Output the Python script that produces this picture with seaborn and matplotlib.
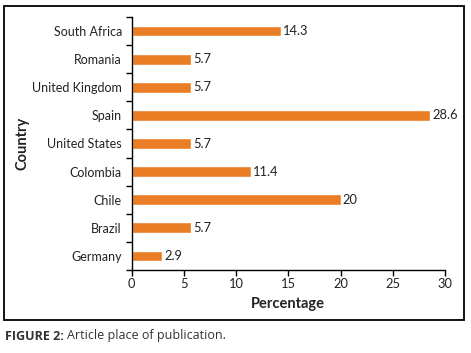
import matplotlib
matplotlib.use("Agg")
import matplotlib.pyplot as plt
import seaborn as sns
import pandas as pd
from matplotlib.patches import Rectangle

countries = ["South Africa", "Romania", "United Kingdom", "Spain", "United States",
             "Colombia", "Chile", "Brazil", "Germany"]
percentages = [14.3, 5.7, 5.7, 28.6, 5.7, 11.4, 20, 5.7, 2.9]
value_labels = ["14.3", "5.7", "5.7", "28.6", "5.7", "11.4", "20", "5.7", "2.9"]
x_ticks = [0, 5, 10, 15, 20, 25, 30]

df = pd.DataFrame({"Country": countries, "Percentage": percentages})

sns.set_style("white")
plt.rcParams["font.family"] = ["Lato", "DejaVu Sans"]

W, H = 471, 353
fig = plt.figure(figsize=(W / 100, H / 100), dpi=100)
ax = fig.add_axes([131.7 / W, 1 - 270 / H, (445 - 131.7) / W, (270 - 17) / H])

sns.barplot(data=df, x="Percentage", y="Country", order=countries,
            color="#E87D23", saturation=1, width=0.38, ax=ax)

ax.bar_label(ax.containers[0], labels=value_labels, padding=1.5,
             fontsize=9.3, color="#222222")

ax.set_xlim(0, 30)
ax.set_ylim(len(countries) - 0.5, -0.5)
ax.set_xticks(x_ticks)
ax.set_xticklabels([str(t) for t in x_ticks], fontsize=9.3, color="#222222")

# y ticks: marks at category boundaries, labels at centers
ax.set_yticks([i - 0.5 for i in range(len(countries) + 1)])
ax.set_yticklabels([])
ax.set_yticks(list(range(len(countries))), minor=True)
ax.set_yticklabels(countries, minor=True, fontsize=9, color="#222222")
ax.tick_params(axis="y", which="major", direction="out", length=4, width=1, color="black", left=True)
ax.tick_params(axis="y", which="minor", length=0, pad=7)
ax.tick_params(axis="x", direction="out", length=4, width=1, color="black", bottom=True, pad=2)

for s in ["top", "right"]:
    ax.spines[s].set_visible(False)
for s in ["left", "bottom"]:
    ax.spines[s].set_color("black")
    ax.spines[s].set_linewidth(1)

ax.set_xlabel("Percentage", fontsize=10.5, fontweight="bold", color="#222222", labelpad=5)
ax.set_ylabel("Country", fontsize=10.5, fontweight="bold", color="#222222")
ax.yaxis.set_label_coords(-(131.7 - 29) / (445 - 131.7), 0.5)

# frame around chart
fig.patches.append(Rectangle((4 / W, 1 - 320 / H), 460 / W, 314 / H,
                             transform=fig.transFigure, fill=False,
                             edgecolor="black", linewidth=1.3))

cap_font = ["Open Sans", "DejaVu Sans"]
t1 = fig.text(5 / W, 1 - 336 / H, "FIGURE 2:", fontsize=9, fontweight="bold",
              family=cap_font, color="#333333", va="center")
fig.canvas.draw()
bb = t1.get_window_extent(renderer=fig.canvas.get_renderer())
fig.text((bb.x1 + 3) / W, 1 - 336 / H, "Article place of publication.", fontsize=9,
         family=cap_font, color="#333333", va="center")

fig.savefig("out.png", dpi=100)
